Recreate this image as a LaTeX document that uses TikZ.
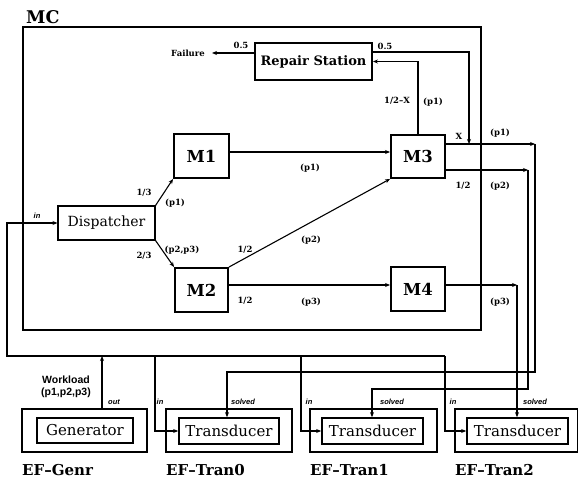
\documentclass[tikz,border=0pt]{standalone}
\usepackage{fontspec}
\setmainfont{DejaVu Serif}
\newfontfamily\lblsans{Liberation Sans}
\usetikzlibrary{arrows.meta}
\begin{document}
\begin{tikzpicture}[x=1pt,y=-1pt,
  wire/.style={line width=1.1pt},
  tip/.style={-{Stealth[length=5pt,width=4pt]}},
  mbox/.style={draw, line width=1.9pt, inner sep=0pt, font=\fontsize{16.5}{16.5}\selectfont\bfseries},
  lbl/.style={font=\fontsize{8.5}{8.5}\selectfont\bfseries, inner sep=0pt},
  port/.style={font=\lblsans\fontsize{7.5}{7.5}\selectfont\bfseries\itshape, inner sep=0pt},
  outerbox/.style={draw, line width=1.9pt, inner sep=0pt},
  innerbox/.style={draw, line width=1.7pt, inner sep=0pt, font=\fontsize{15}{15}\selectfont},
  eflbl/.style={font=\fontsize{15}{15}\selectfont\bfseries, anchor=west, inner sep=0pt}]
\useasboundingbox (0,0) rectangle (578,481);

% coupled model MC
\node[draw, line width=1.9pt, minimum width=458pt, minimum height=303pt, inner sep=0pt, anchor=north west] (mc) at (22,26) {};
\node[font=\fontsize{17.5}{17.5}\selectfont\bfseries, anchor=base west, inner sep=0pt] (mclbl) at (26,24) {MC};

% components inside MC
\node[mbox, minimum width=117pt, minimum height=37pt, font=\fontsize{13}{13}\selectfont\bfseries] (rep) at (313.5,61.5) {Repair Station};
\node[draw, line width=1.1pt, minimum width=97pt, minimum height=34pt, inner sep=0pt, font=\fontsize{14}{14}\selectfont] (disp) at (106.5,223) {Dispatcher};
\node[mbox, minimum width=55pt, minimum height=44pt] (m1) at (201.5,156) {M1};
\node[mbox, minimum width=53pt, minimum height=44pt] (m2) at (201.5,290) {M2};
\node[mbox, minimum width=54pt, minimum height=43pt] (m3) at (418,156.5) {M3};
\node[mbox, minimum width=54pt, minimum height=44pt] (m4) at (418,289) {M4};

% experimental frames
\node[outerbox, minimum width=125pt, minimum height=43pt] (efgenr) at (84.5,430.5) {};
\node[innerbox, minimum width=96pt, minimum height=25pt] (genr) at (85,430.5) {Generator};
\node[outerbox, minimum width=126pt, minimum height=43pt] (eft0) at (229,430.5) {};
\node[innerbox, minimum width=100pt, minimum height=26pt] (tr0) at (229,431) {Transducer};
\node[outerbox, minimum width=127pt, minimum height=43pt] (eft1) at (373.5,430.5) {};
\node[innerbox, minimum width=101pt, minimum height=26pt] (tr1) at (372.5,431) {Transducer};
\node[outerbox, minimum width=123pt, minimum height=43pt] (eft2) at (516.5,430.5) {};
\node[innerbox, minimum width=101pt, minimum height=26pt] (tr2) at (517.5,431) {Transducer};

\node[eflbl] (efgl) at (22,470) {EF--Genr};
\node[eflbl] (eft0l) at (166,470) {EF--Tran0};
\node[eflbl] (eft1l) at (310,470) {EF--Tran1};
\node[eflbl] (eft2l) at (455,470) {EF--Tran2};

% routing levels and bends
\coordinate (yA) at (0,152);
\coordinate (yB) at (0,285);
\coordinate (p1c) at (535,144);
\coordinate (p2c) at (528,170);
\coordinate (p3c) at (517,285);
\coordinate (xDrop) at (469,52);
\coordinate (busL) at (7,356);
\coordinate (busR) at (445,356);
\coordinate (genOut) at (102,356);
\coordinate (in0) at (155,356);
\coordinate (in1) at (301,356);
\coordinate (s0) at (227,372);
\coordinate (s1) at (372,389);

% internal couplings
\draw[wire,tip] (disp.north east) -- (m1.south west);
\draw[wire,tip] (disp.south east) -- (m2.north west);
\draw[wire,tip] (m1.east |- yA) -- (m3.west |- yA);
\draw[wire,tip] (m2.north east) -- (m3.south west);
\draw[wire,tip] (m2.east |- yB) -- (m4.west |- yB);
\draw[wire,tip] (m3.north) |- (rep.east);

% failure output
\node[lbl] (fail) at (188,53) {Failure};
\draw[wire,tip,shorten >=7pt] (rep.west |- fail) -- (fail.east);

% repaired parts rejoin the p1 stream
\draw[wire,tip] (rep.east |- xDrop) -- (xDrop) -- (xDrop |- p1c);

% outputs of M3 and M4
\draw[wire,tip] (m3.east |- p1c) -- (p1c);
\draw[wire,tip] (m3.east |- p2c) -- (p2c);
\draw[wire,tip] (m4.east |- p3c) -- (p3c);

% workload bus from the generator
\draw[wire,tip] (efgenr.north -| genOut) -- (genOut);
\draw[wire,tip] (busR) -- (busL) -- (busL |- disp.west) -- (disp.west);
\draw[wire,tip] (in0) |- (tr0.west);
\draw[wire,tip] (in1) |- (tr1.west);
\draw[wire,tip] (busR) |- (tr2.west);

% solved jobs to the transducers
\draw[wire,tip] (p1c) |- (s0) -- (s0 |- tr0.north);
\draw[wire,tip] (p2c) |- (s1) -- (s1 |- tr1.north);
\draw[wire,tip] (p3c) -- (p3c |- tr2.north);

% coupling labels
\node[lbl] (l05a) at (241,45) {0.5};
\node[lbl] (l05b) at (385,46) {0.5};
\node[lbl] (lhx) at (397,101) {1/2--X};
\node[lbl] (lp1r) at (433,102) {(p1)};
\node[lbl] (lx) at (459,136) {X};
\node[lbl] (lp1o) at (500,133) {(p1)};
\node[lbl] (lh3) at (463,186) {1/2};
\node[lbl] (lp2o) at (500,186) {(p2)};
\node[lbl] (lp1m) at (310,168) {(p1)};
\node[lbl] (lp2m) at (311,240) {(p2)};
\node[lbl] (lh2a) at (245,250) {1/2};
\node[lbl] (lh2b) at (245,301) {1/2};
\node[lbl] (lp3m) at (311,302) {(p3)};
\node[lbl] (lp3o) at (500,302) {(p3)};
\node[lbl] (l13) at (144,193) {1/3};
\node[lbl] (lp1d) at (175,203) {(p1)};
\node[lbl] (l23) at (144,256) {2/3};
\node[lbl] (lp23) at (182,250) {(p2,p3)};

% port labels
\node[port] (pin) at (37,216) {in};
\node[font=\lblsans\fontsize{10.5}{10.5}\selectfont\bfseries, inner sep=0pt, align=center] (wl) at (66,387) {Workload\\[1pt](p1,p2,p3)};
\node[port] (pout) at (114,402) {out};
\node[port] (pin0) at (160,402) {in};
\node[port] (ps0) at (243,402) {solved};
\node[port] (pin1) at (309,402) {in};
\node[port] (ps1) at (392,402) {solved};
\node[port] (pin2) at (453,402) {in};
\node[port] (ps2) at (535,402) {solved};
\end{tikzpicture}
\end{document}
